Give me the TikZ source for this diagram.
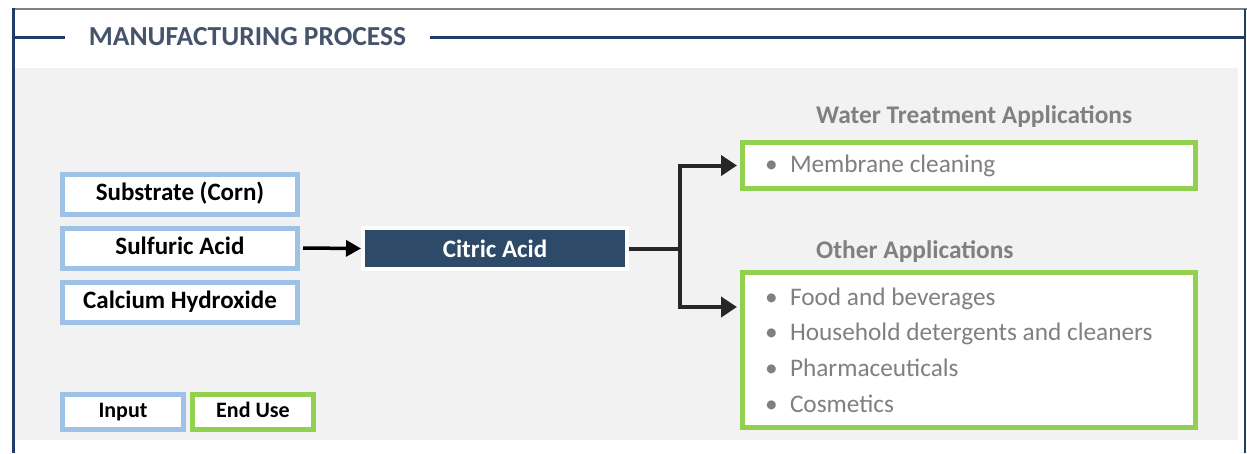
\documentclass[tikz,border=0pt]{standalone}
\usepackage{fontspec}
\setmainfont{Carlito}
\usetikzlibrary{positioning,arrows.meta}
\definecolor{framenavy}{rgb}{0.12,0.24,0.40}
\definecolor{titlegrey}{rgb}{0.27,0.33,0.42}
\definecolor{panelgrey}{rgb}{0.949,0.949,0.949}
\definecolor{inputblue}{rgb}{0.62,0.76,0.90}
\definecolor{endgreen}{rgb}{0.57,0.82,0.31}
\definecolor{productnavy}{rgb}{0.18,0.29,0.41}
\definecolor{listgrey}{rgb}{0.50,0.50,0.50}
\definecolor{linkgrey}{rgb}{0.15,0.15,0.15}
\newcommand{\itemdot}{\spaceskip=0pt\relax\makebox[25pt][l]{\textbullet}}

\begin{document}
\begin{tikzpicture}
       [x=1pt,y=-1pt,
        inputbox/.style={draw=inputblue,fill=white,line width=5pt,
                         minimum width=235pt,minimum height=40pt,
                         text height=17pt,text depth=5pt,
                         font=\fontsize{25}{29}\selectfont\bfseries},
        legendbox/.style={fill=white,line width=5pt,
                          minimum width=121pt,minimum height=35pt,
                          text height=15pt,text depth=4pt,
                          font=\fontsize{22}{26}\selectfont\bfseries},
        usebox/.style={draw=endgreen,fill=white,line width=5pt,
                       minimum width=453pt,text width=408pt,
                       inner xsep=22.5pt,align=left,text=listgrey,
                       font=\fontsize{25.3}{35.7}\selectfont},
        header/.style={anchor=west,inner sep=0pt,text=listgrey,
                       font=\fontsize{25.4}{30}\selectfont\bfseries},
        link/.style={linkgrey,line width=4pt},
        arrow/.style={link,-{Triangle[length=16pt,width=20pt]}}]
       \useasboundingbox (0,0) rectangle (1247,453);
       \fill[panelgrey] (14,68) rectangle (1238,440);
       \draw[gray,line width=2pt] (12,9) -- (1247,9);
       \draw[framenavy,line width=3pt] (13,8) -- (13,453);
       \draw[framenavy,line width=2.5pt] (1245,9) -- (1245,453);
       \node[text=titlegrey,minimum width=365pt,
             font=\fontsize{27.5}{32}\selectfont\bfseries] (title) at (247.5,37) {MANUFACTURING PROCESS};
       \draw[framenavy,line width=3pt] (13,37) -- (title.west) (title.east) -- (1245,37);

       \node [inputbox] (substrate) at (180,194) {Substrate (Corn)};
       \node [inputbox,below=9pt of substrate] (sulfuric) {Sulfuric Acid};
       \node [inputbox,below=9pt of sulfuric] (calcium) {Calcium Hydroxide};
       \node [fill=productnavy,draw=white,line width=4pt,text=white,
              minimum width=264pt,minimum height=41pt,
              font=\fontsize{25}{29}\selectfont\bfseries] (citric) at (495,248.5) {Citric Acid};

       \node [usebox,minimum height=46pt] (membrane) at (969,165.5) {\itemdot Membrane cleaning};
       \node [usebox,minimum height=155pt,below=79pt of membrane] (other)
             {\itemdot Food and beverages\\ \itemdot Household detergents and cleaners\\
              \itemdot Pharmaceuticals\\ \itemdot Cosmetics};
       \node [header] (watertitle) at (816,117) {Water Treatment Applications};
       \node [header] (othertitle) at (816,252) {Other Applications};

       \node [legendbox,draw=inputblue] (input) at (123,412) {Input};
       \node [legendbox,draw=endgreen,right=4pt of input] (enduse) {End Use};

       \coordinate (split) at (680,248.5);
       \draw[arrow,black,line width=3.5pt,-{Triangle[length=15pt,width=16pt]},shorten <=3pt] (sulfuric.east) -- (citric.west);
       \draw[link] (citric.east) -- (split);
       \draw[arrow,shorten >=3pt] (split) |- (membrane.west);
       \draw[arrow,shorten >=3pt] (split) |- ([yshift=43pt]other.west);
\end{tikzpicture}
\end{document}
